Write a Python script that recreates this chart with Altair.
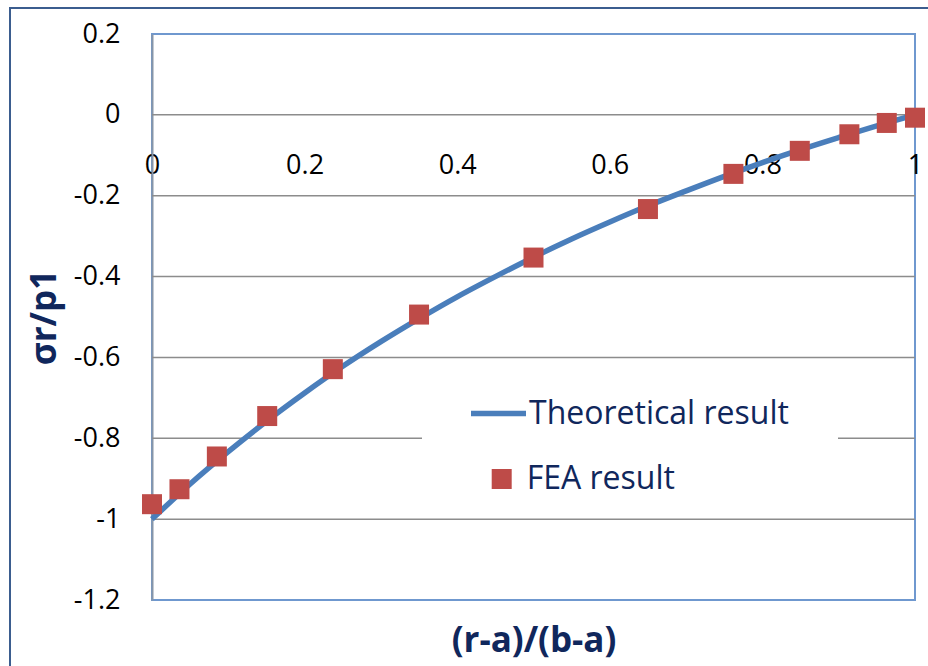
import altair as alt
import pandas as pd

# FEA nodal results: normalised radius (r-a)/(b-a) and radial stress ratio sigma_r/p1
fea_x = [0.0, 0.036, 0.085, 0.151, 0.237, 0.350, 0.500, 0.650, 0.762, 0.849, 0.914, 0.963, 1.0]
fea_y = [-0.963, -0.926, -0.845, -0.745, -0.629, -0.494, -0.353, -0.233, -0.146, -0.089, -0.048, -0.020, -0.007]

# Theoretical (Lame) curve sampled along the wall thickness
theory_x = [0.0, 0.05, 0.10, 0.15, 0.20, 0.25, 0.30, 0.35, 0.40, 0.45, 0.50,
            0.55, 0.60, 0.65, 0.70, 0.75, 0.80, 0.85, 0.90, 0.95, 1.0]
theory_y = [-1.000, -0.913, -0.833, -0.758, -0.688, -0.622, -0.561, -0.504, -0.450, -0.400, -0.352,
            -0.307, -0.265, -0.225, -0.188, -0.152, -0.118, -0.086, -0.056, -0.027, 0.000]

x_ticks = [0, 0.2, 0.4, 0.6, 0.8, 1]
y_ticks = [0.2, 0, -0.2, -0.4, -0.6, -0.8, -1, -1.2]
grid_y = [0, -0.2, -0.4, -0.6, -0.8, -1]

W, H = 763, 566
FONT = "Open Sans"
NAVY = "#10275c"

fea = pd.DataFrame({"x": fea_x, "y": fea_y, "series": "FEA result"})
theory = pd.DataFrame({"x": theory_x, "y": theory_y, "series": "Theoretical result"})
grid = pd.DataFrame({"y": grid_y})

xscale = alt.Scale(domain=[0, 1], nice=False, zero=False)
yscale = alt.Scale(domain=[-1.2, 0.2], nice=False, zero=False)

x_axis = alt.Axis(
    values=x_ticks, labelExpr="'' + datum.value", offset=-(H * 1.2 / 1.4),
    domain=False, ticks=False, tickSize=0, grid=False, labelFlush=False,
    labelPadding=38, labelFont=FONT, labelFontSize=27, labelColor="black",
    title="(r-a)/(b-a)", titleFont=FONT, titleFontSize=35, titleFontWeight="bold",
    titleColor=NAVY, titleX=W / 2, titleY=526, titleBaseline="middle", titleAlign="center",
)
y_axis = alt.Axis(
    values=y_ticks, labelExpr="'' + datum.value",
    domain=True, domainColor="#8896a8", domainWidth=2, ticks=False, tickSize=0, grid=False,
    labelPadding=32, labelFont=FONT, labelFontSize=27, labelColor="black",
    title="σr/p1", titleFont=FONT, titleFontSize=35, titleFontWeight="bold",
    titleColor=NAVY, titleX=-108, titleY=H / 2, titleAngle=270,
    titleBaseline="middle", titleAlign="center",
)

blank = alt.Data(values=[{}])

# outer chart frame
frame = alt.Chart(blank).mark_rect(fill="white", fillOpacity=0, stroke="#3b5d8f", strokeWidth=2).encode(
    x=alt.value(-142), x2=alt.value(1000), y=alt.value(-26), y2=alt.value(800)
)

gridlines = alt.Chart(grid).mark_rule(color="#8c8c8c", strokeWidth=1.5).encode(
    y=alt.Y("y:Q", scale=yscale, axis=y_axis)
)

# white backdrop behind the legend entries
legend_bg = alt.Chart(blank).mark_rect(fill="white").encode(
    x=alt.value(270), x2=alt.value(686), y=alt.value(330), y2=alt.value(466)
)

line = alt.Chart(theory).mark_line(strokeWidth=5.5, interpolate="monotone").encode(
    x=alt.X("x:Q", scale=xscale, axis=x_axis),
    y=alt.Y("y:Q", scale=yscale, axis=y_axis),
    stroke=alt.Stroke(
        "series:N",
        scale=alt.Scale(domain=["Theoretical result"], range=["#4a7ebb"]),
        legend=alt.Legend(
            orient="none", legendX=316, legendY=349, title=None, padding=0,
            symbolType="stroke", symbolSize=3025, symbolStrokeWidth=5.5,
            labelOffset=0, labelFont=FONT, labelFontSize=32, labelColor=NAVY, labelLimit=500,
        ),
    ),
)

points = alt.Chart(fea).mark_square(size=400, opacity=1).encode(
    x=alt.X("x:Q", scale=xscale, axis=x_axis),
    y=alt.Y("y:Q", scale=yscale, axis=y_axis),
    fill=alt.Fill(
        "series:N",
        scale=alt.Scale(domain=["FEA result"], range=["#be4b48"]),
        legend=alt.Legend(
            orient="none", legendX=333.7, legendY=429, title=None, padding=0,
            symbolType="square", symbolSize=400, symbolOpacity=1, symbolStrokeWidth=0,
            labelOffset=9, labelFont=FONT, labelFontSize=32, labelColor=NAVY, labelLimit=500,
        ),
    ),
)

chart = (
    alt.layer(frame, gridlines, legend_bg, line, points)
    .properties(
        width=W, height=H,
        padding={"left": 152, "top": 34, "right": 13, "bottom": 66},
        autosize=alt.AutoSizeParams(type="none"),
        background="white",
    )
    .configure_view(stroke="#6f98cf", strokeWidth=2)
)

chart.save("out.html", embed_options={"renderer": "svg", "actions": False})
